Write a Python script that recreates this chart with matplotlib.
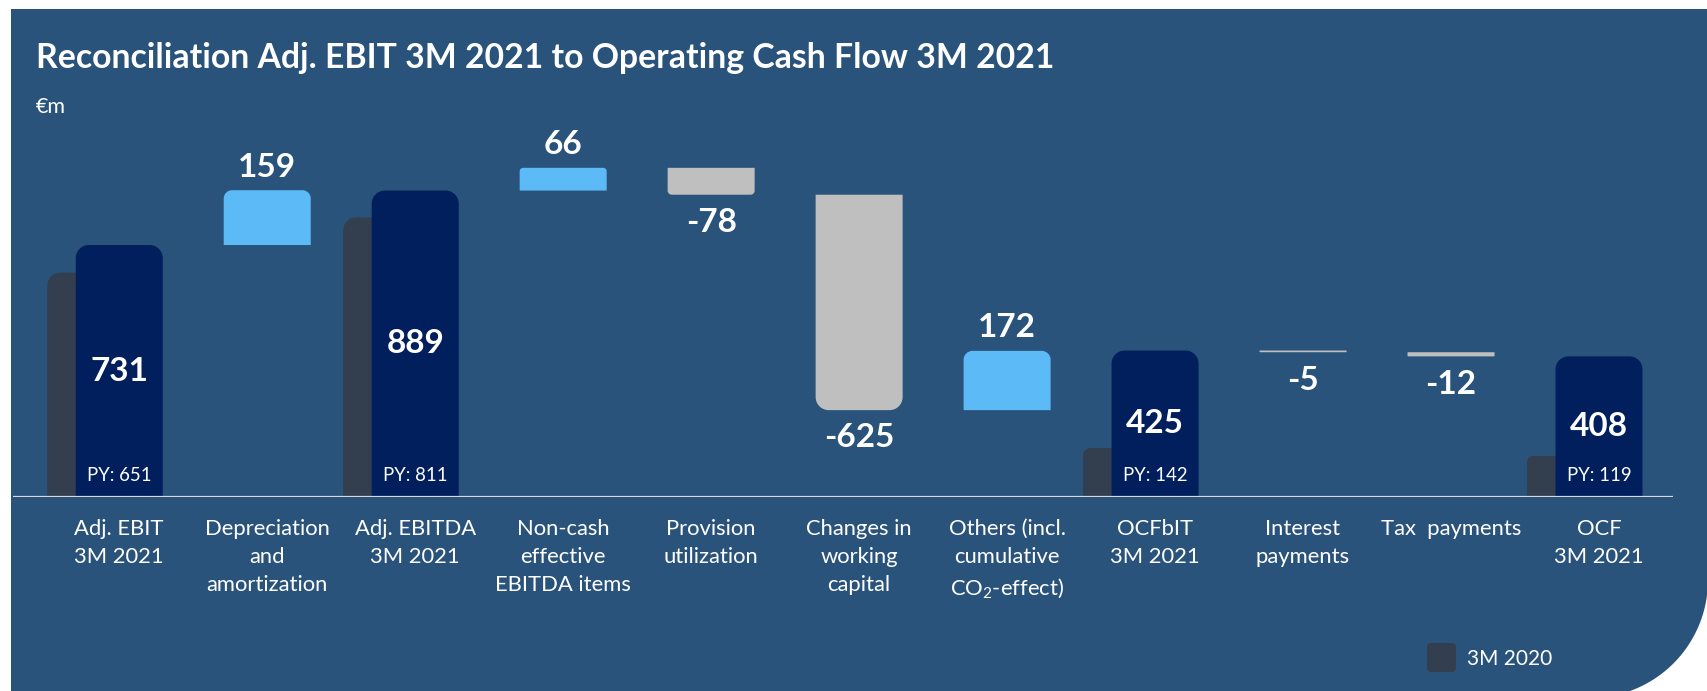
import numpy as np
import matplotlib
matplotlib.use('Agg')
import matplotlib.pyplot as plt
from matplotlib.path import Path
from matplotlib.patches import PathPatch, FancyBboxPatch

plt.rcParams['font.family'] = ['Lato', 'DejaVu Sans']
plt.rcParams['mathtext.fontset'] = 'custom'
plt.rcParams['mathtext.rm'] = 'Lato'
plt.rcParams['mathtext.it'] = 'Lato:italic'

# data (EUR m)
categories = ['Adj. EBIT\n3M 2021', 'Depreciation\nand\namortization', 'Adj. EBITDA\n3M 2021',
              'Non-cash\neffective\nEBITDA items', 'Provision\nutilization', 'Changes in\nworking\ncapital',
              'Others (incl.\ncumulative\nCO$_2$-effect)', 'OCFbIT\n3M 2021', 'Interest\npayments',
              'Tax  payments', 'OCF\n3M 2021']
values = [731, 159, 889, 66, -78, -625, 172, 425, -5, -12, 408]
is_total = [True, False, True, False, False, False, False, True, False, False, True]
prior_year = [651, None, 811, None, None, None, None, 142, None, None, 119]

# colours
PANEL = '#29537A'
NAVY = '#001F5C'
LIGHT = '#5CBAF7'
GREY = '#BFBFBF'
PY_COL = '#333F4F'
LINE = '#D9D9D9'

W, H = 1708, 691
fig = plt.figure(figsize=(W / 100, H / 100), dpi=100)

# background panel in pixel coords
bg = fig.add_axes([0, 0, 1, 1], zorder=0)
bg.set_xlim(0, W)
bg.set_ylim(H, 0)
bg.axis('off')
t = np.linspace(0, np.pi / 2, 40)
cx, cy, R = 1590, 580, 118
pts = [(11, 9), (W, 9), (W, cy)] + list(zip(cx + R * np.cos(t), cy + R * np.sin(t))) + [(11, cy + R)]
bg.add_patch(plt.Polygon(pts, closed=True, facecolor=PANEL, edgecolor='none'))

bg.text(36, 58, 'Reconciliation Adj. EBIT 3M 2021 to Operating Cash Flow 3M 2021',
        color='white', fontsize=24.3, fontweight='bold', va='center', ha='left')
bg.text(36, 107, '€m', color='white', fontsize=15.5, va='center', ha='left')

# legend
bg.add_patch(FancyBboxPatch((1427, 643), 29, 29, boxstyle='round,pad=0,rounding_size=4',
                            facecolor=PY_COL, edgecolor='none'))
bg.text(1467, 659, '3M 2020', color='white', fontsize=15, va='center', ha='left')

# chart axes, placed so one category = 148 px, 1 EUR m = 0.3447 px
left_px, right_px, base_px, top_px = 13, 1673, 497, 120
xmin, xmax = -0.718, 10.5
ymax = (base_px - top_px) / 0.3447
ax = fig.add_axes([left_px / W, (H - base_px) / H, (right_px - left_px) / W, (base_px - top_px) / H], zorder=1)
ax.set_xlim(xmin, xmax)
ax.set_ylim(0, ymax)
ax.axis('off')
ax.patch.set_alpha(0)

px_x = (right_px - left_px) / (xmax - xmin)
px_y = (base_px - top_px) / ymax
K = 0.5523


def rounded_bar(x, y0, y1, width, color, z):
    # bar with rounded corners at the y1 end
    h_px = abs(y1 - y0) * px_y
    r = 0.15 * min(width * px_x, h_px)
    rx, ry = r / px_x, r / px_y
    s = 1 if y1 >= y0 else -1
    xl, xr = x - width / 2, x + width / 2
    verts = [(xl, y0), (xl, y1 - s * ry),
             (xl, y1 - s * ry * (1 - K)), (xl + rx * (1 - K), y1), (xl + rx, y1),
             (xr - rx, y1),
             (xr - rx * (1 - K), y1), (xr, y1 - s * ry * (1 - K)), (xr, y1 - s * ry),
             (xr, y0), (xl, y0)]
    codes = [Path.MOVETO, Path.LINETO, Path.CURVE4, Path.CURVE4, Path.CURVE4, Path.LINETO,
             Path.CURVE4, Path.CURVE4, Path.CURVE4, Path.LINETO, Path.CLOSEPOLY]
    ax.add_patch(PathPatch(Path(verts, codes), facecolor=color, edgecolor='none', zorder=z))


bw = 0.588
py_shift = 0.193
running = 0
for i, (v, tot, py) in enumerate(zip(values, is_total, prior_year)):
    if tot:
        y0, y1 = 0, v
        running = v
        col = NAVY
    else:
        y0, y1 = running, running + v
        running += v
        col = LIGHT if v > 0 else GREY
    rounded_bar(i, y0, y1, bw, col, 3)

    if py is not None:
        rounded_bar(i - py_shift, 0, py, bw, PY_COL, 2)
        ax.annotate('PY: %d' % py, (i, 0), xytext=(0, 15.8), textcoords='offset points',
                    ha='center', va='center', color='white', fontsize=13.4, zorder=5)

    if tot:
        ax.text(i, v / 2, str(v), ha='center', va='center', color='white',
                fontsize=24, fontweight='bold', zorder=5)
    elif v > 0:
        ax.annotate(str(v), (i, y1), xytext=(0, 16.5), textcoords='offset points',
                    ha='center', va='center', color='white', fontsize=24, fontweight='bold')
    else:
        ax.annotate(str(v), (i, y1), xytext=(0, -20), textcoords='offset points',
                    ha='center', va='center', color='white', fontsize=24, fontweight='bold')

    ax.annotate(categories[i], (i, 0), xytext=(0, -15.5), textcoords='offset points',
                ha='center', va='top', color='white', fontsize=15.8, linespacing=1.53,
                annotation_clip=False)

ax.axhline(0, color=LINE, lw=1.6, zorder=4)

fig.savefig('out.png', dpi=100)
